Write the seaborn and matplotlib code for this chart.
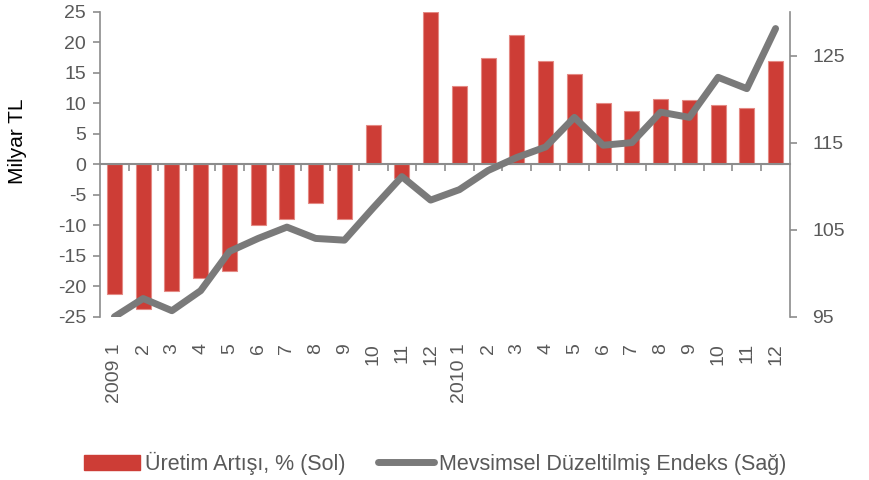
import numpy as np
import pandas as pd
import seaborn as sns
import matplotlib.pyplot as plt
from matplotlib.patches import Patch
from matplotlib.lines import Line2D
from matplotlib.ticker import FixedLocator

# aylar (x ekseni etiketleri)
months = ['2009 1', '2', '3', '4', '5', '6', '7', '8', '9', '10', '11', '12',
          '2010 1', '2', '3', '4', '5', '6', '7', '8', '9', '10', '11', '12']
# Üretim artışı, % (sol eksen)
uretim_artisi = [-21.3, -23.8, -20.8, -18.7, -17.5, -10.0, -9.0, -6.3, -8.9, 6.5, -2.3, 25.0,
                 12.8, 17.5, 21.3, 16.9, 14.9, 10.0, 8.8, 10.8, 10.5, 9.8, 9.3, 16.9]
# Mevsimsel düzeltilmiş endeks (sağ eksen)
endeks = [95.0, 97.1, 95.7, 98.0, 102.5, 104.0, 105.3, 104.0, 103.8, 107.5, 111.1, 108.4,
          109.6, 111.8, 113.3, 114.5, 117.9, 114.7, 115.0, 118.5, 117.9, 122.5, 121.2, 128.1]
left_ticks = [-25, -20, -15, -10, -5, 0, 5, 10, 15, 20, 25]
right_ticks = [95, 105, 115, 125]

bar_label = 'Üretim Artışı, % (Sol)'
line_label = 'Mevsimsel Düzeltilmiş Endeks (Sağ)'

red = '#cd3d36'
gray_line = '#7a7a7a'
spine_col = '#8c8c8c'
text_col = '#595959'
fs = 14

df = pd.DataFrame({'sira': np.arange(len(months)), 'uretim': uretim_artisi, 'endeks': endeks})

sns.set_theme(style='white')
plt.rcParams['font.family'] = ['Liberation Sans', 'DejaVu Sans']
plt.rcParams['axes.unicode_minus'] = False

fig, ax = plt.subplots(figsize=(8.7, 4.8), dpi=100)
fig.subplots_adjust(left=0.115, right=0.908, top=0.975, bottom=0.34)

sns.barplot(data=df, x='sira', y='uretim', ax=ax, color=red, saturation=1,
            width=0.52, edgecolor='#e48a84', linewidth=0.8)

ax2 = ax.twinx()
sns.lineplot(data=df, x='sira', y='endeks', ax=ax2, color=gray_line, linewidth=5,
             solid_capstyle='round', solid_joinstyle='round')

# eksen aralıkları
ax.set_ylim(-25, 25)
ax.set_yticks(left_ticks)
ax2.set_ylim(95, 130)
ax2.set_yticks(right_ticks)
ax.set_xlim(-0.5, len(months) - 0.5)

ax.set_xticks(np.arange(len(months)))
ax.set_xticklabels(months)
ax.xaxis.set_minor_locator(FixedLocator(np.arange(0.5, len(months) - 1, 1)))

# sol eksen: sıfır çizgisi x ekseni gibi
for s in ['top', 'right']:
    ax.spines[s].set_visible(False)
ax.spines['bottom'].set_position(('data', 0))
ax.spines['bottom'].set_color(spine_col)
ax.spines['bottom'].set_linewidth(1.5)
ax.spines['left'].set_color(spine_col)
ax.spines['left'].set_linewidth(1.2)
ax.tick_params(axis='x', which='major', length=0, labelbottom=False)
ax.tick_params(axis='x', which='minor', bottom=True, length=5, width=1.2, color=spine_col, direction='out')
ax.tick_params(axis='y', left=True, length=5, width=1.2, color=spine_col, direction='out',
               labelsize=fs, labelcolor=text_col, pad=5)

# sağ eksen
for s in ['top', 'left', 'bottom']:
    ax2.spines[s].set_visible(False)
ax2.spines['right'].set_color(spine_col)
ax2.spines['right'].set_linewidth(1.2)
ax2.tick_params(axis='y', right=True, length=5, width=1.2, color=spine_col, direction='out',
                labelsize=fs, labelcolor=text_col, pad=11)

# x etiketleri grafiğin altında
ax2.xaxis.set_visible(True)
ax2.tick_params(axis='x', which='both', length=0, labelbottom=True, labelsize=fs,
                labelcolor=text_col, labelrotation=90, pad=19)

ax.set_xlabel('')
ax2.set_xlabel('')
ax2.set_ylabel('')
ax.set_ylabel('Milyar TL', fontsize=15, color='black')
ax.yaxis.set_label_coords(-0.106, 0.577)

handles = [Patch(facecolor=red, edgecolor=red),
           Line2D([], [], color=gray_line, linewidth=5, solid_capstyle='round')]
leg = fig.legend(handles, [bar_label, line_label], loc='center', bbox_to_anchor=(0.5, 0.035),
                 ncol=2, frameon=False, fontsize=15.5, handlelength=2.6, handletextpad=0.25,
                 columnspacing=1.5)
for t in leg.get_texts():
    t.set_color(text_col)

fig.savefig('out.png', dpi=100)
